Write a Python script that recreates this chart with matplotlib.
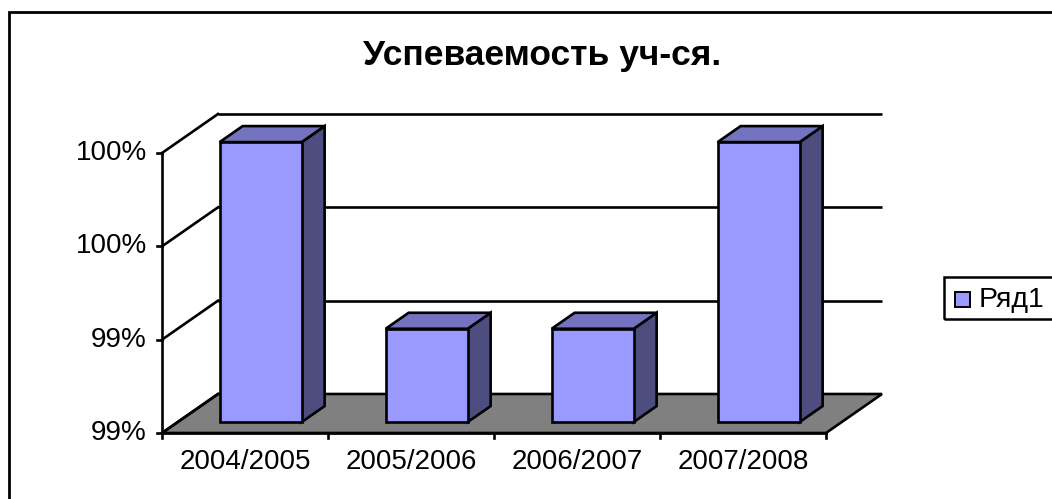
import matplotlib
matplotlib.use("Agg")
import matplotlib.pyplot as plt
from matplotlib.patches import Polygon, Rectangle

# ---- data ----
categories = ["2004/2005", "2005/2006", "2006/2007", "2007/2008"]
values = [1.000, 0.992, 0.992, 1.000]
y_ticks = [0.988, 0.992, 0.996, 1.000]
y_tick_labels = ["99%", "99%", "100%", "100%"]
series_name = "Ряд1"
title = "Успеваемость уч-ся."

# ---- style ----
FRONT = "#9999FF"
TOP = "#7373BF"
SIDE = "#4D4D80"
FLOOR = "#808080"
FONT = ["Liberation Sans", "DejaVu Sans"]

W, H, DPI = 1052, 499, 100
fig = plt.figure(figsize=(W / DPI, H / DPI), dpi=DPI)
fig.patch.set_facecolor("white")

# front plane of plot in pixels
px_left, px_right, px_bottom, px_top = 162, 826, 433, 153
ax = fig.add_axes([px_left / W, (H - px_bottom) / H,
                   (px_right - px_left) / W, (px_bottom - px_top) / H])
ymin, ymax = y_ticks[0], y_ticks[-1]
n = len(categories)
ax.set_xlim(0, n)
ax.set_ylim(ymin, ymax)
ax.axis("off")

# depth offsets (category units, value units)
DX = 56 / ((px_right - px_left) / n)
DY = 39 / ((px_bottom - px_top) / (ymax - ymin))
f0, f1 = 0.28, 0.69
bar_w = 0.494

lw = 1.9
# floor
floor = Polygon([(0, ymin), (n, ymin), (n + DX, ymin + DY), (DX, ymin + DY)],
                closed=True, facecolor=FLOOR, edgecolor="black", lw=lw,
                clip_on=False, zorder=1)
ax.add_patch(floor)

# gridlines on back wall + diagonal on side wall
for t in y_ticks[1:]:
    ax.plot([DX, n + DX], [t + DY, t + DY], color="black", lw=lw,
            clip_on=False, zorder=2, solid_capstyle="butt")
for t in y_ticks:
    ax.plot([0, DX], [t, t + DY], color="black", lw=lw, clip_on=False, zorder=2)

# axes lines
ax.plot([0, 0], [ymin, ymax], color="black", lw=lw, clip_on=False, zorder=3)
ax.plot([0, n], [ymin, ymin], color="black", lw=lw, clip_on=False, zorder=3)
tick_len_x = 5 / ((px_right - px_left) / n)
tick_len_y = 5 / ((px_bottom - px_top) / (ymax - ymin))
for t, lab in zip(y_ticks, y_tick_labels):
    ax.plot([-tick_len_x, 0], [t, t], color="black", lw=lw, clip_on=False, zorder=3)
    ax.text(-tick_len_x * 3.0, t, lab, ha="right", va="center", fontsize=20,
            family=FONT, clip_on=False)
for i in range(n + 1):
    ax.plot([i, i], [ymin, ymin - tick_len_y], color="black", lw=lw,
            clip_on=False, zorder=3)
for i, c in enumerate(categories):
    ax.text(i + 0.5, ymin - 29 * (ymax - ymin) / (px_bottom - px_top), c,
            ha="center", va="center", fontsize=20, family=FONT, clip_on=False)

# bars
for i, v in enumerate(values):
    x0 = i + (1 - bar_w) / 2 + f0 * DX
    x1 = x0 + bar_w
    yb = ymin + f0 * DY
    yt = v + f0 * DY
    ddx = (f1 - f0) * DX
    ddy = (f1 - f0) * DY
    side = Polygon([(x1, yb), (x1 + ddx, yb + ddy), (x1 + ddx, yt + ddy), (x1, yt)],
                   closed=True, facecolor=SIDE, edgecolor="black", lw=lw,
                   clip_on=False, zorder=4, joinstyle="miter")
    top = Polygon([(x0, yt), (x1, yt), (x1 + ddx, yt + ddy), (x0 + ddx, yt + ddy)],
                  closed=True, facecolor=TOP, edgecolor="black", lw=lw,
                  clip_on=False, zorder=4, joinstyle="miter")
    front = Rectangle((x0, yb), bar_w, v - ymin, facecolor=FRONT,
                      edgecolor="black", lw=lw, clip_on=False, zorder=5,
                      joinstyle="miter")
    ax.add_patch(side)
    ax.add_patch(top)
    ax.add_patch(front)

# title
fig.text(542 / W, 1 - 55 / H, title, ha="center", va="center", fontsize=25.5,
         fontweight="bold", family=FONT)

# chart border
fig.add_artist(Rectangle((9 / W, -0.05), 1.2, 1 - 12 / H + 0.05,
                         transform=fig.transFigure, fill=False,
                         edgecolor="black", lw=2))

# legend box
fig.add_artist(Rectangle((944 / W, 1 - 319 / H), 0.2, 42 / H,
                         transform=fig.transFigure, fill=False,
                         edgecolor="black", lw=1.8))
fig.add_artist(Rectangle((955 / W, 1 - 307 / H), 15 / W, 15 / H,
                         transform=fig.transFigure, facecolor=FRONT,
                         edgecolor="black", lw=1.4))
fig.text(979 / W, 1 - 300 / H, series_name, ha="left", va="center",
         fontsize=20.5, family=FONT)

fig.savefig("out.png", dpi=DPI)
